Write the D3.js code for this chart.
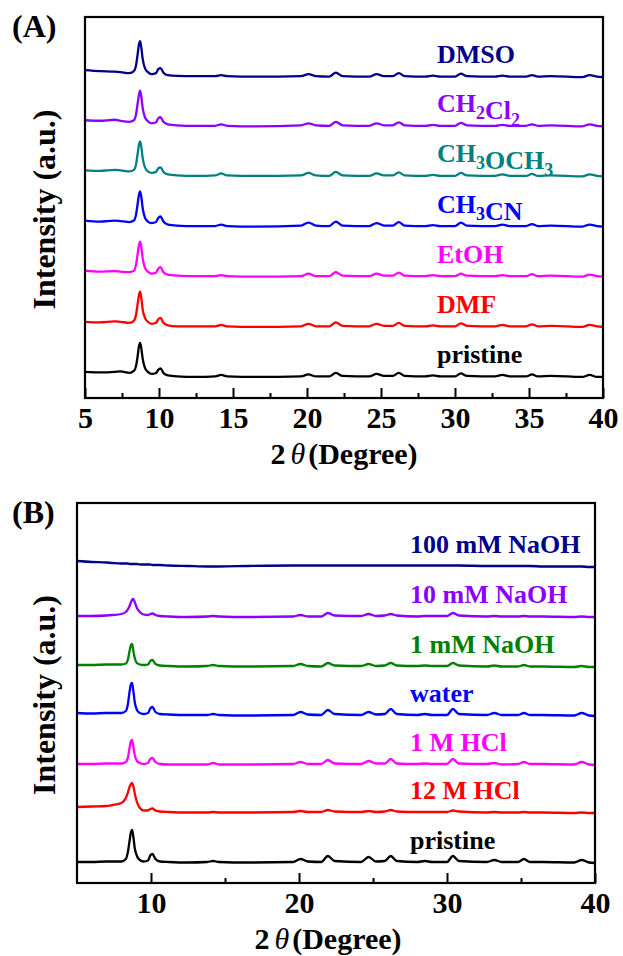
<!DOCTYPE html>
<html>
<head>
<meta charset="utf-8">
<script src="https://cdn.jsdelivr.net/npm/d3@7/dist/d3.min.js"></script>
<style>
  html, body { margin: 0; padding: 0; background: #fff; }
  svg { display: block; }
  text { font-family: "Liberation Serif", "Times New Roman", serif; font-weight: bold; }
</style>
</head>
<body>
<svg id="chart" width="623" height="956"></svg>
<script>
// 2-theta grid shared by every pattern (degrees)
const twoTheta = [5, 6, 7, 7.4, 8.0, 8.3, 8.45, 8.55, 8.65, 8.72, 8.8, 8.9, 9.05, 9.25, 9.5,
  9.8, 9.95, 10.1, 10.3, 10.6, 11.2, 12.5, 13.8, 14.2, 14.6, 16.5, 19.6, 20.1, 20.6, 21.5,
  21.95, 22.4, 24.2, 24.7, 25.2, 25.8, 26.2, 26.6, 28.0, 28.5, 29.0, 30.0, 30.4, 30.8, 32.7,
  33.2, 33.7, 34.8, 35.2, 35.6, 36.5, 38.6, 39.1, 39.6, 40];

// Panel A: solvent treatments (intensity above each trace's own baseline, a.u.)
const pristineA = [5, 4.5, 5, 5.5, 4, 6, 11, 20, 31, 34, 29, 18, 9, 5, 3,
  4, 7, 8.5, 4, 1.5, 0.5, 0, 0.5, 2, 0.5, 0, 0.5, 2.5, 0.5, 0.5,
  4, 1, 0.5, 3, 1, 1, 4, 1, 0.5, 1.5, 0.5, 0.5, 3.5, 1, 0.5,
  2, 0.5, 0.5, 2.5, 0.5, 1, 0, 2, 0, 0];
const dmfA = [5, 4.5, 5.5, 5, 4, 6, 12, 22, 32, 35, 29, 17, 9, 5, 3,
  4, 7.5, 9, 4, 1.5, 0.5, 0.5, 0.5, 2, 0.5, 0, 0.5, 3, 0.5, 0.5,
  4.5, 1, 0.5, 3, 1, 1, 4, 1, 0.5, 1.5, 0.5, 0.5, 3.5, 1, 0.5,
  2, 0.5, 0.5, 2.5, 0.5, 1, 0, 2, 0.5, 0];
const etohA = [6, 5, 5.5, 5, 4.5, 6, 12, 22, 32, 35, 30, 18, 9, 5, 3,
  4, 8, 9.5, 4.5, 2, 1, 0.5, 0.5, 1.5, 0.5, 0, 0.5, 3, 0.5, 0.5,
  4.5, 1, 0.5, 3, 1, 1, 4, 1, 0.5, 1.5, 0.5, 0.5, 3, 1, 0.5,
  1.5, 0.5, 0.5, 2.5, 0.5, 1, 0, 2, 0.5, 0];
const ch3cnA = [6, 5, 6, 5.5, 4.5, 6, 12, 22, 32, 35, 30, 18, 9, 5, 3.5,
  4.5, 8.5, 10, 5, 2, 1, 0.5, 0.5, 2, 0.5, 0, 1, 4, 1, 0.5,
  5, 1, 0.5, 3.5, 1, 1, 4.5, 1, 0.5, 1.5, 0.5, 0.5, 4, 1, 0.5,
  2, 0.5, 0.5, 2.5, 0.5, 1, 0, 2, 0.5, 0];
const ch3och3A = [6, 5.5, 6.5, 6, 5, 6.5, 12, 22, 32, 35, 30, 18, 9, 5, 3.5,
  4.5, 8, 9, 4.5, 2, 1, 0.5, 1, 3, 1, 0.5, 1, 3.5, 1, 0.5,
  4.5, 1, 0.5, 3, 1, 1, 4, 1, 0.5, 1.5, 0.5, 0.5, 3.5, 1, 0.5,
  2, 0.5, 0.5, 2.5, 0.5, 1, 0, 2, 0.5, 0];
const ch2cl2A = [6, 5.5, 6.5, 5.5, 4.5, 6, 12, 22, 32, 35.5, 30, 18, 9, 5, 3,
  4, 8, 9, 4.5, 2, 1, 0.5, 0.5, 2, 0.5, 0, 1, 3, 1, 0.5,
  4.5, 1, 0.5, 3, 1, 1, 4, 1, 0.5, 1.5, 0.5, 0.5, 3.5, 1, 0.5,
  1.5, 0.5, 0.5, 2, 0.5, 1, 0, 2, 0.5, 0];
const dmsoA = [7, 6, 5.5, 5, 4, 6, 12, 22, 33, 36, 30, 18, 9, 5, 3,
  4, 8, 9, 4.5, 2, 1.3, 1, 1, 2, 1, 0.5, 1, 3, 1, 0.5,
  4.5, 1, 0.5, 3, 1, 1, 4, 1, 0.5, 1.5, 0.5, 0.5, 3.5, 1, 0.5,
  1.5, 0.5, 0.5, 2, 0.5, 1, 0, 2, 0.5, 0];

// Panel B: acid / base / water treatments
const pristineB = [1, 1, 1.5, 1.5, 1.5, 4, 12, 22, 31, 33, 27, 15, 7, 3, 1.5,
  2.5, 7.5, 9, 4, 1.5, 1, 0.5, 1, 2, 1, 0.5, 1, 4, 1.5, 1,
  7, 2, 1, 6, 1.5, 2, 7, 2, 1, 2, 1, 1, 7, 2, 1,
  3, 1, 1, 4, 1, 1, 0.5, 3, 0.5, 0];
const hcl12B = [6, 6.5, 7, 8, 10, 15, 21, 26, 29, 30, 27, 20, 11, 5, 2.5,
  2.5, 4, 4.5, 2.5, 1.5, 1, 0.5, 0.5, 1, 0.5, 0.5, 1, 2, 1, 1,
  3, 1.5, 1, 2, 1, 1.5, 3, 1.5, 1, 1, 1, 1, 2.5, 1.5, 0.5,
  1, 0.5, 0.5, 1, 0.5, 0.5, 0, 0.5, 0, 0];
const hcl1B = [1, 1, 1.5, 1.5, 1.5, 3, 8, 17, 24, 25, 19, 10, 4, 2, 1,
  2, 6, 7, 3, 1, 0.5, 0.5, 0.5, 2, 0.5, 0.5, 1, 3, 1, 1,
  5, 1.5, 1, 4, 1.5, 1.5, 6, 1.5, 1, 1.5, 1, 1, 6, 1.5, 1,
  2, 0.5, 1, 3, 1, 1, 0.5, 3, 0.5, 0];
const waterB = [3, 2.5, 3, 3, 3, 5, 13, 24, 32, 33, 26, 14, 6, 3, 2,
  3, 7.5, 9, 4, 2, 1.5, 1, 1, 2, 1, 0.5, 1, 4, 1.5, 1,
  6, 2, 1, 4, 1.5, 2, 7, 2, 1, 2, 1, 1, 7, 2, 1,
  3, 1, 1, 3, 1, 1, 0.5, 3, 0.5, 0];
const naoh1B = [2, 2, 2.5, 2.5, 2.5, 3.5, 8, 16, 22, 23, 17, 9, 4, 2.5, 2,
  2.5, 6, 7, 3, 1.5, 1, 0.5, 1, 2, 1, 0.5, 1, 3, 1, 0.5,
  4, 1.5, 1, 3, 1, 1.5, 4, 1.5, 1, 1.5, 1, 1, 4, 1.5, 0.5,
  1.5, 0.5, 0.5, 2, 0.5, 0.5, 0, 1, 0, 0];
const naoh10B = [1, 1, 1.5, 2, 3, 5, 8, 11, 15, 17, 18, 15, 9, 5, 2.5,
  2, 3, 3.5, 2, 1, 0.5, 0, 0.5, 1, 0.5, 0, 0.5, 2, 0.5, 0.5,
  4, 1.5, 1, 3, 1, 1.5, 3, 1.5, 0.5, 1, 1, 1, 4, 1.5, 0.5,
  1, 0.5, 0.5, 1, 0.5, 0.5, 0, 0.5, 0, 0];
const naoh100B = [6, 5, 4.5, 4, 3.5, 3.5, 3.5, 3, 3, 3, 3, 3, 3, 2.5, 2.5,
  2.5, 2.5, 2, 2, 2, 1.5, 1, 0.5, 0.5, 0.5, 1, 1.5, 1.5, 1.5, 1.5,
  1.5, 1.5, 1.5, 1.5, 1.5, 1.5, 1.5, 1.5, 1.5, 1.5, 1.5, 1.5, 1.5, 1.5, 1,
  1, 1, 1, 1, 1, 0.5, 0.5, 0.5, 0, 0];

// stacking order bottom -> top, with vertical offsets (a.u.)
const labelsA = ["pristine", "DMF", "EtOH", "CH_3CN", "CH_3OCH_3", "CH_2Cl_2", "DMSO"];
const seriesA = [pristineA, dmfA, etohA, ch3cnA, ch3och3A, ch2cl2A, dmsoA];
const offsetsA = [21, 71, 121, 171, 221, 271, 320];
const colorsA = ["#000000", "#ff0000", "#ff00ff", "#0000ff", "#008080", "#8b00ff", "#00008b"];

const labelsB = ["pristine", "12 M HCl", "1 M HCl", "water", "1 mM NaOH", "10 mM NaOH", "100 mM NaOH"];
const seriesB = [pristineB, hcl12B, hcl1B, waterB, naoh1B, naoh10B, naoh100B];
const offsetsB = [20, 70, 118, 167, 216, 266, 316];
const colorsB = ["#000000", "#ff0000", "#ff00ff", "#0000ff", "#008000", "#8b00ff", "#00008b"];

const ticksA = [5, 10, 15, 20, 25, 30, 35, 40];
const minorA = [7.5, 12.5, 17.5, 22.5, 27.5, 32.5, 37.5];
const ticksB = [10, 20, 30, 40];
const minorB = [15, 25, 35];

const svg = d3.select("#chart");

function drawPanel(cfg) {
  const x = d3.scaleLinear().domain([5, 40]).range([cfg.left, cfg.right]);
  const y = d3.scaleLinear().domain([0, 380]).range([cfg.bottom, cfg.top]);
  const g = svg.append("g");

  const line = d3.line()
      .x((d, i) => x(twoTheta[i]))
      .y(d => d)
      .curve(d3.curveMonotoneX);

  cfg.series.forEach((vals, k) => {
    const ys = vals.map(v => y(v + cfg.offsets[k]));
    g.append("path")
        .attr("d", line(ys))
        .attr("fill", "none")
        .attr("stroke", cfg.colors[k])
        .attr("stroke-width", 2.3)
        .attr("stroke-linejoin", "round");

    // label with subscripts marked by "_"
    const t = g.append("text")
        .attr("x", cfg.labelX)
        .attr("y", y(cfg.offsets[k]) - 14)
        .attr("fill", cfg.colors[k])
        .style("font-size", "26px");
    cfg.labels[k].split(/(_\d)/).filter(s => s.length).forEach(part => {
      if (part[0] === "_") {
        t.append("tspan").attr("dy", 7).style("font-size", "18px").text(part.slice(1));
        t.append("tspan").attr("dy", -7).text("");
      } else {
        t.append("tspan").text(part);
      }
    });
  });

  // frame
  g.append("rect")
      .attr("x", cfg.left).attr("y", cfg.top)
      .attr("width", cfg.right - cfg.left).attr("height", cfg.bottom - cfg.top)
      .attr("fill", "none").attr("stroke", "#000").attr("stroke-width", 2.2);

  // inward ticks
  const axis = g.append("g").attr("transform", `translate(0,${cfg.bottom})`)
      .call(d3.axisBottom(x).tickValues(cfg.ticks).tickSize(-10).tickPadding(14).tickFormat(d3.format("d")));
  axis.select(".domain").remove();
  axis.selectAll(".tick line").attr("stroke-width", 2);
  axis.selectAll(".tick text")
      .attr("y", 30).attr("dy", null)
      .attr("fill", "#000")
      .style("font-size", "30px")
      .style("font-family", "'Liberation Serif', 'Times New Roman', serif");

  const minor = g.append("g").attr("transform", `translate(0,${cfg.bottom})`)
      .call(d3.axisBottom(x).tickValues(cfg.minor).tickSize(-5).tickFormat(""));
  minor.select(".domain").remove();
  minor.selectAll(".tick line").attr("stroke-width", 2);

  // x title
  const xt = g.append("text")
      .attr("x", cfg.titleX)
      .attr("y", cfg.bottom + 66)
      .attr("text-anchor", "middle")
      .style("font-size", "30px");
  xt.append("tspan").text("2");
  xt.append("tspan").attr("dx", 5).style("font-style", "italic").style("font-weight", "normal").text("θ");
  xt.append("tspan").attr("dx", 3).text("(Degree)");

  // y title
  g.append("text")
      .attr("transform", `translate(55,${(cfg.top + cfg.bottom) / 2 + 2}) rotate(-90)`)
      .attr("text-anchor", "middle")
      .style("font-size", "32px")
      .text("Intensity (a.u.)");

  // panel letter
  g.append("text")
      .attr("x", 12)
      .attr("y", cfg.top + cfg.letterDy)
      .style("font-size", "32px")
      .text(cfg.letter);
}

drawPanel({
  left: 85, right: 603, top: 17, bottom: 398,
  series: seriesA, offsets: offsetsA, colors: colorsA, labels: labelsA,
  labelX: 437, ticks: ticksA, minor: minorA, titleX: 344, letter: "(A)", letterDy: 20
});

drawPanel({
  left: 77, right: 595, top: 503, bottom: 883,
  series: seriesB, offsets: offsetsB, colors: colorsB, labels: labelsB,
  labelX: 410, ticks: ticksB, minor: minorB, titleX: 328, letter: "(B)", letterDy: 20
});
</script>
</body>
</html>
